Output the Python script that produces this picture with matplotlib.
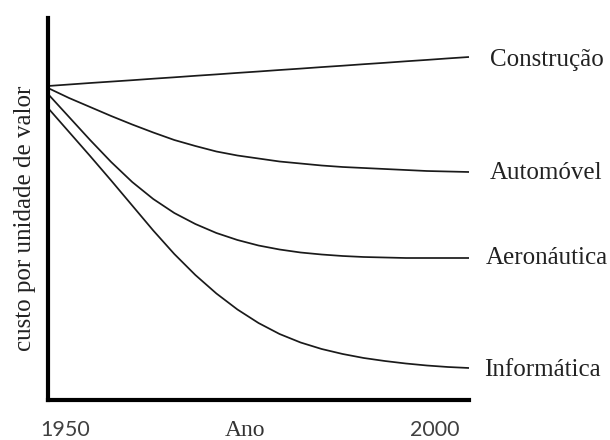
import matplotlib
matplotlib.use("Agg")
import matplotlib.pyplot as plt

# ---- data (arbitrary cost units) ----
anos = [1950, 1952.5, 1955, 1957.5, 1960, 1962.5, 1965, 1967.5, 1970, 1972.5, 1975,
        1977.5, 1980, 1982.5, 1985, 1987.5, 1990, 1992.5, 1995, 1997.5, 2000]
construcao = [314, 315.5, 317, 318.4, 319.8, 321.3, 322.7, 324.2, 325.6, 327.1, 328.5,
              330, 331.4, 332.9, 334.3, 335.8, 337.2, 338.7, 340.1, 341.6, 343]
automovel = [312, 302, 293, 284, 275.5, 267.5, 260, 254, 248.5, 244.5, 241.5,
             238.5, 236.5, 234.5, 233, 232, 231, 230, 229, 228.5, 228]
aeronautica = [306, 283, 260, 238, 218, 201, 187, 176, 167, 160, 154.5,
               150.5, 147.5, 145.5, 144, 143, 142.5, 142, 142, 142, 142]
informatica = [292, 268, 244, 219.5, 194.5, 169.5, 146, 125, 106.5, 90.5, 77,
               66, 57.5, 51, 46, 42, 39, 36.5, 34.5, 33, 32]
nomes = ["Construção", "Automóvel", "Aeronáutica", "Informática"]
eixo_x = ["1950", "Ano", "2000"]
rotulo_y = "custo por unidade de valor"

fig = plt.figure(figsize=(6.1, 4.4), dpi=100)
ax = fig.add_axes([48 / 610, 40 / 440, 421 / 610, 382 / 440])
ax.set_xlim(1950, 2000)
ax.set_ylim(0, 382)

serif = "Liberation Serif"
series = [construcao, automovel, aeronautica, informatica]
offsets = [(78, -3), (77, -1), (78, 0), (73, -2)]
for nome, vals, off in zip(nomes, series, offsets):
    ax.plot(anos, vals, color="#1a1a1a", lw=1.25, solid_capstyle="butt",
            solid_joinstyle="round", clip_on=False)
    ax.annotate(nome, xy=(anos[-1], vals[-1]), xytext=off,
                textcoords="offset pixels", ha="center", va="center",
                family=serif, fontsize=18, color="#222222", annotation_clip=False)

for s in ["top", "right"]:
    ax.spines[s].set_visible(False)
for s in ["left", "bottom"]:
    ax.spines[s].set_linewidth(3)
    ax.spines[s].set_color("black")
    ax.spines[s].set_capstyle("projecting")
ax.set_xticks([])
ax.set_yticks([])

# bottom labels
ax.text(0.040, -0.0942, eixo_x[0], transform=ax.transAxes, ha="center", va="baseline",
        family="Lato", fontsize=15.5, color="#404040")
ax.text(0.468, -0.0942, eixo_x[1], transform=ax.transAxes, ha="center", va="baseline",
        family=serif, fontsize=17, color="#333333")
ax.text(0.919, -0.0942, eixo_x[2], transform=ax.transAxes, ha="center", va="baseline",
        family="Lato", fontsize=15.5, color="#404040")

# y label
ax.text(-0.055, 0.476, rotulo_y, transform=ax.transAxes, ha="center", va="center",
        rotation=90, family=serif, fontsize=18, color="#222222")

fig.savefig("out.png", dpi=100, facecolor="white")
